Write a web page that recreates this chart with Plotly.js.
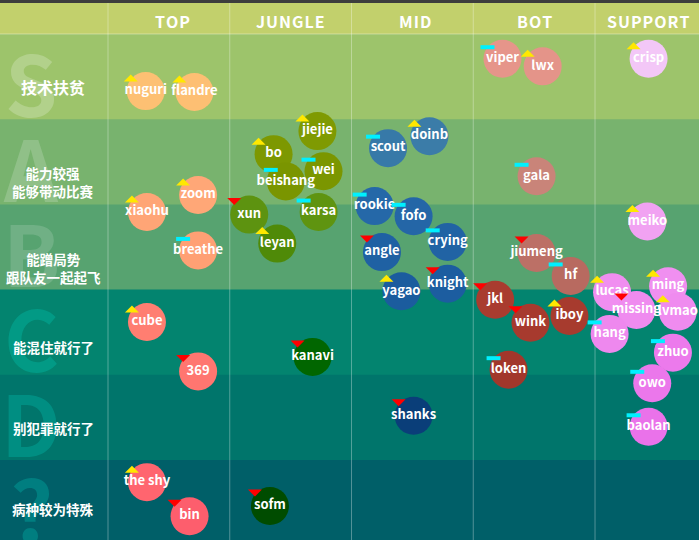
<!DOCTYPE html>
<html><head><meta charset="utf-8">
<script src="https://cdn.plot.ly/plotly-3.0.1.min.js"></script>
<style>html,body{margin:0;padding:0;background:#3d3d3d;overflow:hidden}#chart{width:699px;height:540px}</style>
</head><body><div id="chart"></div>
<script>
// ---------------- data ----------------
const positions = ['TOP', 'JUNGLE', 'MID', 'BOT', 'SUPPORT'];
const tiers = ['S', 'A', 'B', 'C', 'D', '?'];
const tierLabels = ['技术扶贫', '能力较强<br>能够带动比赛', '能蹭局势<br>跟队友一起起飞', '能混住就行了', '别犯罪就行了', '病种较为特殊'];

// x = position within the column grid (column i spans i..i+1), tier = vertical tier score (S = 0..1, A = 1..2, ...)
const topNames = ['nuguri', 'flandre', 'zoom', 'xiaohu', 'breathe', 'cube', '369', 'the shy', 'bin'];
const topX     = [0.31, 0.71, 0.74, 0.32, 0.74, 0.32, 0.74, 0.32, 0.67];
const topTier  = [0.67, 0.68, 1.89, 2.09, 2.54, 3.38, 3.96, 5.26, 5.66];
const topTrend = ['up', 'up', 'up', 'up', 'same', 'up', 'down', 'up', 'down'];

const jungleNames = ['jiejie', 'bo', 'wei', 'beishang', 'karsa', 'xun', 'leyan', 'kanavi', 'sofm'];
const jungleX     = [1.72, 1.36, 1.77, 1.46, 1.73, 1.16, 1.39, 1.68, 1.33];
const jungleTier  = [1.14, 1.41, 1.61, 1.73, 2.09, 2.12, 2.46, 3.79, 5.54];
const jungleTrend = ['up', 'up', 'same', 'same', 'same', 'down', 'up', 'down', 'down'];

const midNames = ['doinb', 'scout', 'rookie', 'fofo', 'crying', 'angle', 'knight', 'yagao', 'shanks'];
const midX     = [2.64, 2.30, 2.19, 2.51, 2.79, 2.25, 2.79, 2.41, 2.51];
const midTier  = [1.20, 1.34, 2.02, 2.14, 2.44, 2.56, 2.93, 3.02, 4.48];
const midTrend = ['up', 'same', 'same', 'same', 'same', 'down', 'down', 'up', 'down'];

const botNames = ['viper', 'lwx', 'gala', 'jiumeng', 'hf', 'jkl', 'iboy', 'wink', 'loken'];
const botX     = [3.24, 3.57, 3.52, 3.52, 3.80, 3.18, 3.79, 3.47, 3.29];
const botTier  = [0.29, 0.38, 1.67, 2.57, 2.84, 3.12, 3.31, 3.39, 3.94];
const botTrend = ['same', 'up', 'same', 'down', 'same', 'down', 'up', 'down', 'same'];

const supNames = ['crisp', 'meiko', 'ming', 'lucas', 'missing', 'lvmao', 'hang', 'zhuo', 'owo', 'baolan'];
const supX     = [4.44, 4.43, 4.60, 4.14, 4.34, 4.68, 4.12, 4.64, 4.47, 4.44];
const supTier  = [0.29, 2.20, 2.96, 3.03, 3.24, 3.26, 3.52, 3.74, 4.10, 4.61];
const supTrend = ['up', 'up', 'up', 'up', 'down', 'up', 'same', 'same', 'same', 'same'];

// ---------------- styles ----------------
const FONT = '"Noto Sans CJK SC", "Source Han Sans SC", "Noto Sans", sans-serif';
const bandColors = ['#9dc46b', '#78b36e', '#57a370', '#03846f', '#00756b', '#005f68'];
const letterColors = ['rgba(255,255,255,0.22)', 'rgba(255,255,255,0.18)', 'rgba(255,255,255,0.15)',
                      'rgba(0,220,200,0.25)', 'rgba(0,220,200,0.25)', 'rgba(0,220,200,0.25)'];
const labelOffset = [0.62, 0.74, 0.75, 0.67, 0.62, 0.58];
// colour ramps in tier units
const ramps = {
  TOP: [[0.6, '#fdc173'], [1.9, '#ffa777'], [2.6, '#ff9f74'], [3.4, '#ff7d71'], [4.0, '#ff7670'], [5.3, '#ff646f'], [5.7, '#fd5d6d']],
  JUNGLE: [[1.1, '#7f9a02'], [1.75, '#7a9500'], [2.1, '#5e9410'], [2.46, '#4f8a08'], [3.8, '#006600'], [5.55, '#004c00']],
  MID: [[1.2, '#3b7ca8'], [2.0, '#2568a8'], [3.0, '#1b5c9f'], [4.5, '#0a3e78']],
  BOT: [[0.3, '#e6958a'], [1.67, '#c98479'], [2.84, '#b86a60'], [3.1, '#a93c2f'], [3.95, '#a2372b']],
  SUPPORT: [[0.3, '#f3c7f7'], [2.2, '#f1a2f2'], [3.0, '#f08ef0'], [3.52, '#ee88ee'], [3.74, '#ec7aec'], [4.61, '#ea72ea']]
};

const groups = [
  {pos: 'TOP', n: topNames, x: topX, y: topTier, t: topTrend},
  {pos: 'JUNGLE', n: jungleNames, x: jungleX, y: jungleTier, t: jungleTrend},
  {pos: 'MID', n: midNames, x: midX, y: midTier, t: midTrend},
  {pos: 'BOT', n: botNames, x: botX, y: botTier, t: botTrend},
  {pos: 'SUPPORT', n: supNames, x: supX, y: supTier, t: supTrend}
];

const traces = groups.map(g => {
  const r = ramps[g.pos];
  const cmin = r[0][0], cmax = r[r.length - 1][0];
  return {
    type: 'scatter', mode: 'markers+text', x: g.x, y: g.y, text: g.n,
    textposition: 'middle center', hoverinfo: 'skip',
    marker: {size: 38, color: g.y, cmin: cmin, cmax: cmax,
             colorscale: r.map(s => [(s[0] - cmin) / (cmax - cmin), s[1]]),
             line: {width: 0}, opacity: 1},
    textfont: {family: FONT, size: 13, color: '#ffffff', weight: 'bold'},
    cliponaxis: false
  };
});

const shapes = [];
// top dark strip + header
shapes.push({type: 'rect', xref: 'paper', x0: 0, x1: 1, yref: 'y', y0: -0.5, y1: -0.364, fillcolor: '#3d3d3d', line: {width: 0}, layer: 'below'});
shapes.push({type: 'rect', xref: 'paper', x0: 0, x1: 1, yref: 'y', y0: -0.364, y1: 0, fillcolor: '#c2d06c', line: {width: 0}, layer: 'below'});
tiers.forEach((t, i) => {
  shapes.push({type: 'rect', xref: 'paper', x0: 0, x1: 1, yref: 'y', y0: i, y1: i + 1.2, fillcolor: bandColors[i], line: {width: 0}, layer: 'below'});
});
shapes.push({type: 'line', xref: 'paper', x0: 0, x1: 1, yref: 'y', y0: 0, y1: 0, line: {color: 'rgba(255,255,255,0.35)', width: 1.2}, layer: 'below'});
positions.forEach((p, i) => {
  shapes.push({type: 'line', xref: 'x', x0: i, x1: i, yref: 'y', y0: -0.364, y1: 6.2, line: {color: 'rgba(255,255,255,0.32)', width: 1}, layer: 'below'});
});
// trend indicators (pixel-sized, anchored on each player)
const paths = {
  up: 'M-22,9.5 L-8,9.5 L-15,16.5 Z',
  down: 'M-22,16.5 L-8,16.5 L-15,9.5 Z',
  same: 'M-22,9.5 L-8,9.5 L-8,13.5 L-22,13.5 Z'
};
const trendColor = {up: '#ffe800', down: '#ff0000', same: '#00f0ff'};
groups.forEach(g => {
  g.n.forEach((name, k) => {
    shapes.push({type: 'path', xref: 'x', yref: 'y', xsizemode: 'pixel', ysizemode: 'pixel',
      xanchor: g.x[k], yanchor: g.y[k], path: paths[g.t[k]],
      fillcolor: trendColor[g.t[k]], line: {width: 0}, layer: 'above'});
  });
});

const annotations = [];
const headerX = [0.53, 1.5, 2.52, 3.5, 4.44];
positions.forEach((p, i) => {
  annotations.push({x: headerX[i], y: -0.153, xref: 'x', yref: 'y', text: p.split('').join('\u200A'), showarrow: false,
    xanchor: 'center', yanchor: 'middle', font: {family: FONT, size: 16, color: '#ffffff', weight: 'bold'}});
});
tiers.forEach((t, i) => {
  annotations.push({x: -0.632, y: i + 0.54, xref: 'x', yref: 'y', text: t, showarrow: false,
    xanchor: 'center', yanchor: 'middle', font: {family: FONT, size: 84, color: letterColors[i], weight: 'bold'}});
});
tiers.forEach((t, i) => {
  annotations.push({x: -0.448, y: i + labelOffset[i], xref: 'x', yref: 'y', text: tierLabels[i], showarrow: false,
    xanchor: 'center', yanchor: 'middle', align: 'center',
    font: {family: FONT, size: i === 0 ? 16 : 13.5, color: '#ffffff', weight: 'bold'}});
});

const layout = {
  width: 699, height: 540, margin: {l: 0, r: 0, t: 0, b: 0, pad: 0},
  paper_bgcolor: '#3d3d3d', plot_bgcolor: '#3d3d3d', showlegend: false,
  xaxis: {range: [-0.887, 4.854], visible: false, fixedrange: true},
  yaxis: {range: [5.939, -0.399], visible: false, fixedrange: true},
  shapes: shapes, annotations: annotations, hovermode: false
};
Plotly.newPlot('chart', traces, layout, {staticPlot: true, displayModeBar: false});
</script></body></html>
